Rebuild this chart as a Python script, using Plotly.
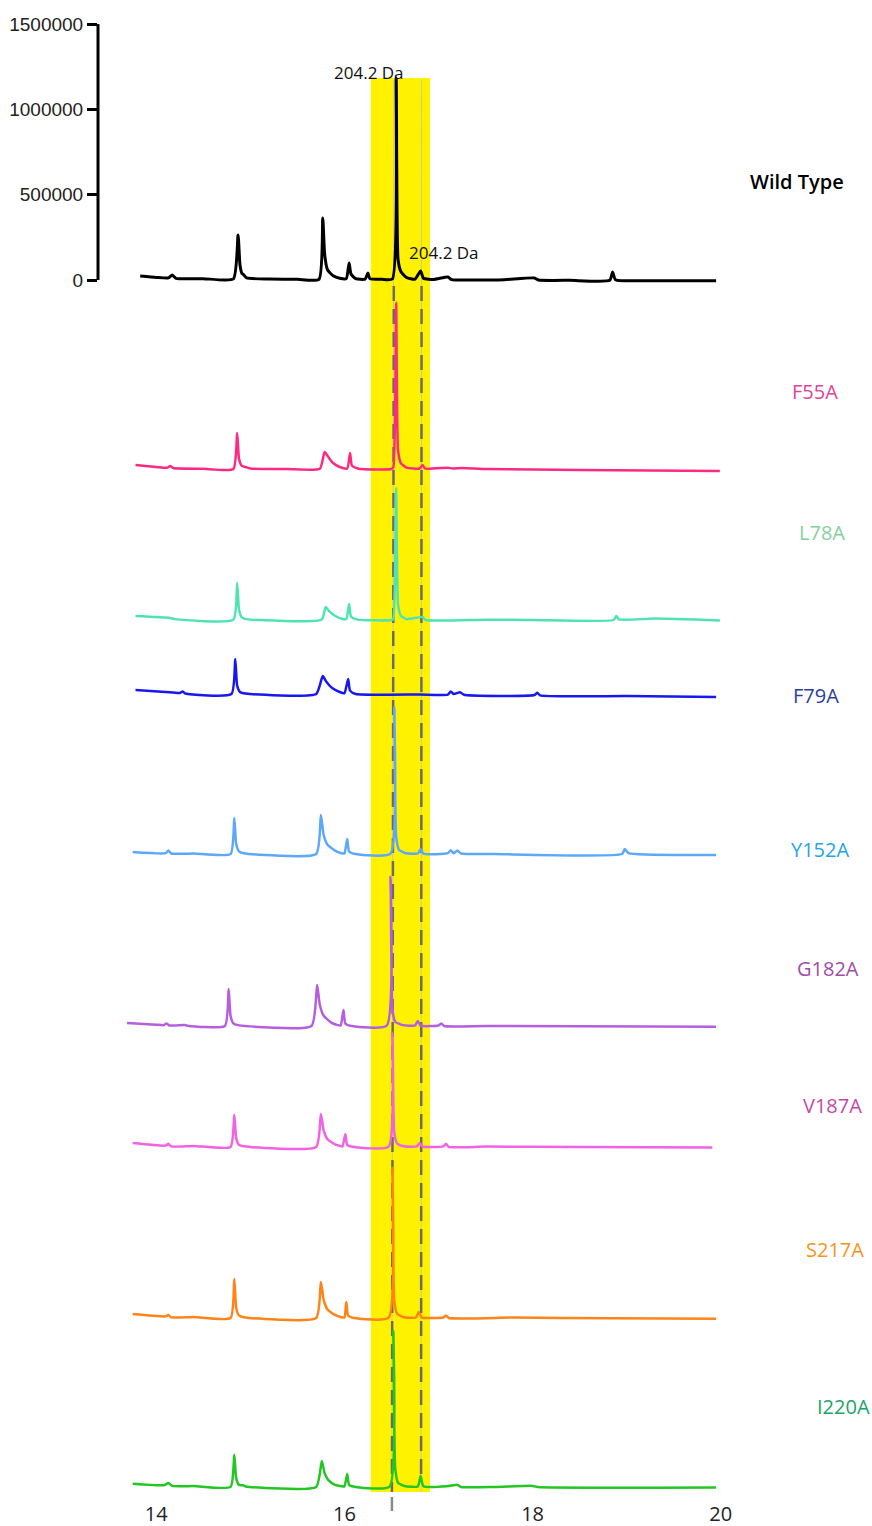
import plotly.graph_objects as go

# ---------------------------------------------------------------------------
# Stacked GC-MS chromatograms (retention time in min, intensity in counts)
# ---------------------------------------------------------------------------
samples = ["Wild Type", "F55A", "L78A", "F79A", "Y152A", "G182A", "V187A", "S217A", "I220A"]

rt_wt = [13.83, 14.00, 14.13, 14.17, 14.21, 14.50, 14.82, 14.87, 14.89, 14.91, 14.93, 14.96,
         15.20, 15.50, 15.73, 15.77, 15.79, 15.82, 15.88, 15.95, 16.02, 16.05, 16.07, 16.12,
         16.22, 16.25, 16.27, 16.40, 16.51, 16.55, 16.57, 16.60, 16.66, 16.75, 16.81, 16.84,
         16.95, 17.10, 17.14, 17.40, 17.70, 18.02, 18.06, 18.40, 18.82, 18.85, 18.88, 19.30, 19.95]
int_wt = [23000, 15000, 12000, 30000, 10000, 8000, 6000, 264000, 90000, 40000, 30000, 12000,
          6000, 4000, 4000, 363000, 150000, 60000, 25000, 10000, 8000, 100000, 35000, 8000,
          5000, 41000, 8000, 4000, 6000, 1184000, 120000, 50000, 15000, 5000, 53000, 10000,
          3000, 18000, 2000, 0, 2000, 12000, 0, -2000, -2000, 47000, 2000, -4000, -5000]

rt_f55a = [13.78, 14.00, 14.12, 14.15, 14.18, 14.50, 14.82, 14.86, 14.88, 14.91, 14.95, 15.00,
           15.40, 15.74, 15.79, 15.83, 15.88, 15.95, 16.03, 16.06, 16.08, 16.15, 16.50, 16.52,
           16.55, 16.57, 16.60, 16.66, 16.80, 16.83, 16.86, 17.10, 17.15, 17.25, 17.50, 18.50, 19.99]
int_f55a = [23000, 12000, 8000, 18000, 6000, 2000, 0, 211000, 60000, 18000, 12000, 3000,
            0, 2000, 100000, 70000, 35000, 12000, 3000, 94000, 20000, 2000, 0, 10000,
            975000, 110000, 35000, 8000, 3000, 23000, 2000, 8000, 3000, 6000, 0, -6000, -12000]

rt_l78a = [13.78, 14.15, 14.20, 14.82, 14.86, 14.88, 14.91, 14.96, 15.76, 15.80, 15.84, 15.90,
           15.98, 16.02, 16.05, 16.07, 16.14, 16.50, 16.52, 16.55, 16.57, 16.60, 16.66, 16.83,
           16.86, 17.50, 18.00, 18.86, 18.89, 18.92, 19.30, 19.99]
int_l78a = [23000, 12000, 5000, 2000, 217000, 60000, 15000, 5000, 3000, 76000, 50000, 25000,
            6000, 5000, 94000, 20000, 2000, 0, 8000, 774000, 90000, 25000, 5000, 18000,
            0, 2000, 0, 0, 23000, 3000, 8000, -3000]

rt_f79a = [13.78, 14.10, 14.25, 14.28, 14.31, 14.80, 14.84, 14.86, 14.89, 14.95, 15.70, 15.77,
           15.81, 15.87, 15.95, 16.00, 16.04, 16.06, 16.12, 16.80, 17.10, 17.13, 17.16, 17.23,
           17.27, 18.02, 18.05, 18.08, 19.00, 19.95]
int_f79a = [23000, 12000, 6000, 15000, 3000, 0, 205000, 50000, 12000, 3000, 0, 105000,
            70000, 35000, 12000, 5000, 88000, 20000, 0, -3000, -3000, 15000, 0, 10000,
            -4000, -6000, 8000, -8000, -12000, -17000]

rt_y152a = [13.75, 14.10, 14.13, 14.16, 14.40, 14.79, 14.83, 14.85, 14.88, 14.93, 15.70, 15.75,
            15.78, 15.82, 15.90, 15.97, 16.00, 16.03, 16.05, 16.12, 16.49, 16.53, 16.55, 16.58,
            16.65, 16.78, 16.81, 16.84, 17.10, 17.13, 17.16, 17.20, 17.24, 17.60, 18.95, 18.98,
            19.02, 19.95]
int_y152a = [12000, 5000, 20000, 3000, 3000, 0, 211000, 60000, 15000, 5000, 0, 229000,
             110000, 55000, 20000, 5000, 3000, 88000, 15000, 0, 2000, 860000, 100000, 25000,
             5000, 3000, 29000, 2000, 5000, 22000, 5000, 20000, 3000, 0, 0, 29000,
             5000, -5000]

rt_g182a = [13.69, 14.00, 14.08, 14.11, 14.14, 14.30, 14.33, 14.73, 14.77, 14.79, 14.82, 14.87,
            15.65, 15.71, 15.74, 15.78, 15.86, 15.93, 15.96, 15.99, 16.01, 16.08, 16.45, 16.49,
            16.51, 16.54, 16.62, 16.75, 16.78, 16.81, 17.00, 17.03, 17.06, 17.50, 19.95]
int_g182a = [18000, 8000, 5000, 15000, 3000, 6000, 2000, 0, 217000, 60000, 15000, 5000,
             0, 240000, 120000, 60000, 20000, 5000, 3000, 94000, 15000, 0, 2000, 873000,
             100000, 25000, 5000, 3000, 29000, 2000, 3000, 15000, 0, 0, -4000]

rt_v187a = [13.75, 14.10, 14.13, 14.16, 14.40, 14.79, 14.83, 14.85, 14.88, 14.93, 15.70, 15.75,
            15.78, 15.82, 15.90, 15.97, 15.98, 16.01, 16.03, 16.10, 16.47, 16.51, 16.53, 16.56,
            16.63, 16.77, 16.80, 16.83, 17.05, 17.08, 17.11, 17.50, 18.50, 19.91]
int_v187a = [23000, 8000, 18000, 3000, 6000, 0, 188000, 50000, 12000, 4000, 0, 193000,
             95000, 45000, 15000, 4000, 3000, 76000, 12000, 0, 2000, 668000, 80000, 20000,
             4000, 3000, 23000, 2000, 3000, 18000, 0, 2000, 0, -3000]

rt_s217a = [13.75, 14.10, 14.13, 14.16, 14.40, 14.79, 14.83, 14.85, 14.88, 14.93, 15.70, 15.75,
            15.78, 15.82, 15.90, 15.97, 16.00, 16.02, 16.04, 16.11, 16.47, 16.51, 16.53, 16.56,
            16.63, 16.76, 16.79, 16.82, 17.05, 17.08, 17.11, 17.80, 18.30, 19.95]
int_s217a = [23000, 10000, 18000, 4000, 6000, 0, 229000, 60000, 15000, 5000, 0, 211000,
             105000, 50000, 18000, 5000, 3000, 94000, 15000, 0, 2000, 880000, 100000, 25000,
             5000, 3000, 35000, 4000, 3000, 15000, 0, 3000, 0, -4000]

rt_i220a = [13.75, 14.08, 14.13, 14.17, 14.40, 14.79, 14.83, 14.85, 14.88, 14.92, 14.95, 15.70,
            15.76, 15.79, 15.83, 15.90, 15.97, 16.00, 16.03, 16.05, 16.12, 16.48, 16.52, 16.54,
            16.57, 16.64, 16.78, 16.81, 16.84, 17.10, 17.20, 17.24, 17.60, 18.00, 18.05, 19.95]
int_i220a = [18000, 10000, 23000, 6000, 5000, 0, 188000, 50000, 12000, 10000, 3000, 0,
             152000, 80000, 40000, 12000, 4000, 3000, 76000, 12000, 0, 2000, 914000, 110000,
             25000, 5000, 3000, 64000, 4000, 5000, 12000, 0, 0, 6000, 0, -4000]

rt_series = [rt_wt, rt_f55a, rt_l78a, rt_f79a, rt_y152a, rt_g182a, rt_v187a, rt_s217a, rt_i220a]
int_series = [int_wt, int_f55a, int_l78a, int_f79a, int_y152a, int_g182a, int_v187a, int_s217a, int_i220a]

# Vertical stacking offset of each chromatogram (counts)
offsets = [0, -1108000, -1993000, -2427000, -3365000, -4373000, -5082000, -6085000, -7075000]

line_colors = ["#000000", "#ff2a80", "#4fe3b3", "#1717ee", "#5ea8fb",
               "#b45ee0", "#f262e4", "#ff8418", "#23c623"]
label_colors = ["#000000", "#df4597", "#86cf9f", "#2c3f9c", "#1fa5e2",
                "#a24ca8", "#c24aa6", "#f7941d", "#1aa46c"]
line_widths = [3, 2.5, 2.5, 2.5, 2.5, 2.5, 2.5, 2.5, 2.5]

# Intensity axis ticks (wild-type scale)
y_ticks = [0, 500000, 1000000, 1500000]
x_ticks = [14, 16, 18, 20]

# Highlighted elution window and the two marked 204.2 Da peaks (top, bottom rt)
window = [16.28, 16.91]
marker_rt_top = [16.525, 16.82]
marker_rt_bottom = [16.505, 16.815]
mass_label = "204.2 Da"

# ---------------------------------------------------------------------------
# Geometry of the canvas
# ---------------------------------------------------------------------------
W, H = 872, 1526
ML, MR, MT, MB = 98, 0, 10, 26
PX_PER_MIN = 94.1
RT_AT_CENTER, PX_CENTER = 17.0, 438.5
COUNTS_PER_PX = 5862.0
ZERO_PX = 280


def rt_at(px):
    return RT_AT_CENTER + (px - PX_CENTER) / PX_PER_MIN


def counts_at(py):
    return (ZERO_PX - py) * COUNTS_PER_PX


def paper_y(py):
    return (H - MB - py) / (H - MB - MT)


fig = go.Figure()

for name, rt, sig, off, col, lw in zip(samples, rt_series, int_series, offsets,
                                      line_colors, line_widths):
    fig.add_trace(go.Scatter(
        x=rt, y=[v + off for v in sig], mode="lines", name=name,
        line=dict(color=col, width=lw, shape="spline", smoothing=0.5),
        showlegend=False, hoverinfo="skip",
    ))

shapes = []
# yellow window
shapes.append(dict(type="rect", xref="x", yref="y", layer="below",
                   x0=window[0], x1=window[1], y0=counts_at(1492), y1=counts_at(78),
                   fillcolor="#fff200", line=dict(width=0)))
# faint guide lines and dashed markers, drawn behind the traces
marker_bottoms = [1492, 1478]
for xt, xb, yb in zip(marker_rt_top, marker_rt_bottom, marker_bottoms):
    shapes.append(dict(type="line", xref="x", yref="y", layer="below",
                       x0=xt, x1=xb, y0=counts_at(80), y1=counts_at(1492),
                       line=dict(color="rgba(185,185,185,0.7)", width=1)))
    shapes.append(dict(type="line", xref="x", yref="y", layer="below",
                       x0=xt, x1=xb, y0=counts_at(286), y1=counts_at(yb),
                       line=dict(color="#6b6b6b", width=2.5, dash="15px,8px")))
# last dash of the first marker, below the window
shapes.append(dict(type="line", xref="x", yref="paper", layer="above",
                   x0=marker_rt_bottom[0], x1=marker_rt_bottom[0],
                   y0=paper_y(1497), y1=paper_y(1511),
                   line=dict(color="#8a8a8a", width=2.5)))
# intensity axis spine
shapes.append(dict(type="line", xref="paper", yref="y", x0=0, x1=0,
                   y0=y_ticks[0], y1=y_ticks[-1], line=dict(color="#000", width=3)))

annotations = []
label_px = [(797, 181), (815, 391), (822, 532), (816, 695), (820, 849),
            (828, 968), (832, 1105), (835, 1249), (843, 1406)]
for name, (px, py), col in zip(samples, label_px, label_colors):
    annotations.append(dict(
        x=rt_at(px), y=counts_at(py), xref="x", yref="y", text=name, showarrow=False,
        xanchor="center", yanchor="middle",
        font=dict(family="Open Sans", size=20, color=col,
                  weight=600 if name == "Wild Type" else 400),
    ))
for px, py in [(369, 72), (444, 252)]:
    annotations.append(dict(
        x=rt_at(px), y=counts_at(py), xref="x", yref="y", text=mass_label, showarrow=False,
        xanchor="center", yanchor="middle",
        font=dict(family="Open Sans", size=17, color="#111"),
    ))

fig.update_layout(
    width=W, height=H,
    margin=dict(l=ML, r=MR, t=MT, b=MB, pad=0),
    paper_bgcolor="white", plot_bgcolor="white",
    shapes=shapes, annotations=annotations,
    xaxis=dict(range=[rt_at(ML), rt_at(W - MR)], tickvals=x_ticks,
               ticktext=[str(v) for v in x_ticks], ticks="", showline=False,
               showgrid=False, zeroline=False,
               tickfont=dict(family="Open Sans", size=20, color="#222")),
    yaxis=dict(range=[counts_at(H - MB), counts_at(MT)], tickvals=y_ticks,
               ticktext=[str(v) for v in y_ticks], ticks="outside", ticklen=10,
               tickwidth=3, tickcolor="#000", showline=False, showgrid=False,
               zeroline=False,
               tickfont=dict(family="Liberation Sans", size=19, color="#222")),
)

fig.write_html("out.html")
